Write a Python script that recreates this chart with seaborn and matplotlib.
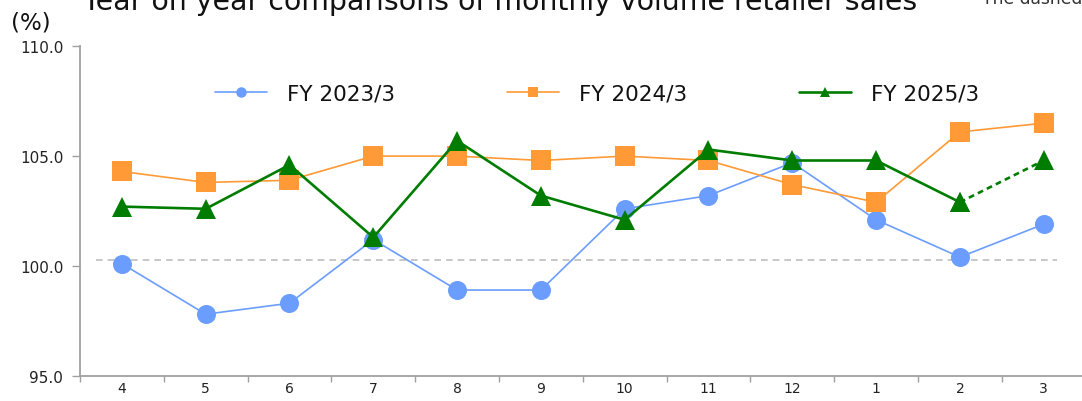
import numpy as np
import pandas as pd
import matplotlib
matplotlib.use("Agg")
import matplotlib.pyplot as plt
import seaborn as sns

# Fiscal-year months (April to March)
months = ["4", "5", "6", "7", "8", "9", "10", "11", "12", "1", "2", "3"]

# Year-on-year volume retail sales (%)
fy2023 = [100.1, 97.8, 98.3, 101.2, 98.9, 98.9, 102.6, 103.2, 104.7, 102.1, 100.4, 101.9]
fy2024 = [104.3, 103.8, 103.9, 105.0, 105.0, 104.8, 105.0, 104.8, 103.7, 102.9, 106.1, 106.5]
fy2025 = [102.7, 102.6, 104.6, 101.3, 105.7, 103.2, 102.1, 105.3, 104.8, 104.8, 102.9, 104.8]

series_names = ["FY 2023/3", "FY 2024/3", "FY 2025/3"]
baseline = 100.25
y_ticks = [95.0, 100.0, 105.0, 110.0]

pos = np.arange(len(months))
df = pd.DataFrame({"pos": pos, "fy2023": fy2023, "fy2024": fy2024, "fy2025": fy2025})

sns.set_style("white")
plt.rcParams["font.family"] = ["DejaVu Sans"]

W, H = 1082, 402
fig = plt.figure(figsize=(W / 100, H / 100), dpi=100)
ax = fig.add_axes([80 / W, 1 - 376.7 / H, 1005.6 / W, 329.4 / H])

BLUE = "#6b9dff"
ORANGE = "#ff9a36"
GREEN = "#007d00"

# reference line
ax.plot([-0.31, 11.16], [baseline, baseline], color="#bdbdbd", lw=1.2,
        dashes=(4, 3), zorder=1)

sns.lineplot(data=df, x="pos", y="fy2023", ax=ax, color=BLUE, lw=1.2,
             marker="o", markersize=13.7, markeredgewidth=0,
             label=series_names[0], zorder=3)
sns.lineplot(data=df, x="pos", y="fy2024", ax=ax, color=ORANGE, lw=1.2,
             marker="s", markersize=13.7, markeredgewidth=0,
             label=series_names[1], zorder=4)
solid = df.iloc[:11]
sns.lineplot(data=solid, x="pos", y="fy2025", ax=ax, color=GREEN, lw=1.9,
             marker="^", markersize=13.7, markeredgewidth=0,
             label=series_names[2], zorder=5)
# preliminary last month drawn dashed
prelim = df.iloc[10:]
sns.lineplot(data=prelim, x="pos", y="fy2025", ax=ax, color=GREEN, lw=1.9,
             marker="^", markersize=13.7, markeredgewidth=0,
             zorder=5, legend=False)
ax.get_lines()[-1].set_linestyle((0, (2.2, 1.6)))

ax.set_xlim(-0.5, 11.5)
ax.set_ylim(95, 110)
ax.set_xlabel("")
ax.set_ylabel("")

# x: tick marks between months, labels at month centres
ax.set_xticks(np.arange(-0.5, 12.0, 1.0))
ax.set_xticklabels([])
ax.set_xticks(pos, minor=True)
ax.set_xticklabels(months, minor=True, fontsize=10)
ax.tick_params(axis="x", which="major", direction="out", length=4, width=1,
               color="#a0a0a0", bottom=True)
ax.tick_params(axis="x", which="minor", length=0, pad=4, labelcolor="#222222")

ax.set_yticks(y_ticks)
ax.set_yticklabels([f"{v:.1f}" for v in y_ticks], fontsize=11, color="#222222")
ax.tick_params(axis="y", direction="out", length=6, width=1, color="#a0a0a0",
               left=True, pad=6)

for side in ["top", "right"]:
    ax.spines[side].set_visible(False)
for side in ["left", "bottom"]:
    ax.spines[side].set_color("#a0a0a0")
    ax.spines[side].set_linewidth(1.3)
ax.grid(False)

leg = ax.legend(loc="center", bbox_to_anchor=(0.514, 0.857), ncol=3,
                frameon=False, fontsize=15.5, markerscale=0.55,
                handlelength=2.42, handletextpad=0.93, columnspacing=5.2,
                borderpad=0, borderaxespad=0)
for t in leg.get_texts():
    t.set_color("#111111")

fig.text(82 / W, 1 - 10 / H, "Year on year comparisons of monthly volume retailer sales",
         fontsize=20.4, va="baseline", ha="left", color="#111111")
fig.text(982 / W, 1 - 4 / H, "The dashed line is a preliminary figure",
         fontsize=12.3, va="baseline", ha="left", color="#333333")
fig.text(11 / W, 1 - 23 / H, "(%)", fontsize=16.5, va="center", ha="left",
         color="#111111")

fig.save_path = None
fig.savefig("out.png", dpi=100)
